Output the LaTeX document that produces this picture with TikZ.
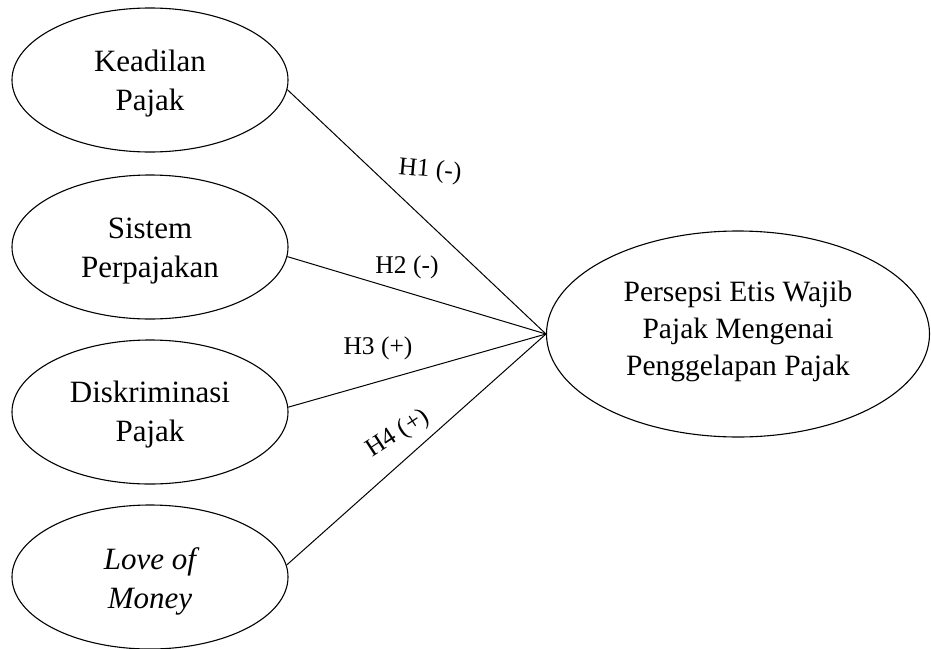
\documentclass[tikz,border=0pt]{standalone}
\usepackage{fontspec}
\setmainfont{Liberation Serif}
\usetikzlibrary{shapes.geometric}
\begin{document}
\begin{tikzpicture}[x=1pt,y=-1pt,
  var/.style={draw, ellipse, line width=1.1pt, inner sep=0pt, minimum width=276pt, minimum height=144pt},
  vtext/.style={inner sep=0pt, align=center, font=\fontsize{31}{39}\selectfont},
  dep/.style={draw, ellipse, line width=1.1pt, inner sep=0pt, minimum width=383pt, minimum height=206pt},
  dtext/.style={inner sep=0pt, align=center, font=\fontsize{29.5}{37}\selectfont},
  link/.style={line width=1pt},
  hyp/.style={font=\fontsize{25.5}{30}\selectfont, inner sep=0pt}]
\useasboundingbox (0,0) rectangle (931,648);
\node[var] (k) at (150,80) {};
\node[vtext] (kt) at (150,84) {Keadilan\\Pajak};
\node[var] (s) at (150,247) {};
\node[vtext] (st) at (150,251) {Sistem\\Perpajakan};
\node[var] (d) at (150,412) {};
\node[vtext] (dt) at (150,415) {Diskriminasi\\Pajak};
\node[var] (l) at (150,577) {};
\node[vtext] (lt) at (150,581) {\itshape Love of\\\itshape Money};
\node[dep] (p) at (738,334) {};
\node[dtext] (pt) at (738,331) {Persepsi Etis Wajib\\Pajak Mengenai\\Penggelapan Pajak};
\draw[link] (k.-4) -- (p.west);
\draw[link] (s.-4) -- (p.west);
\draw[link] (d.2) -- (p.west);
\draw[link] (l.5) -- (p.west);
\node[hyp, rotate=-5] (h1) at (430,171) {H1 (-)};
\node[hyp] (h2) at (407,267) {H2 (-)};
\node[hyp] (h3) at (378,348) {H3 (+)};
\node[hyp, rotate=33] (h4) at (398,434) {H4 (+)};
\end{tikzpicture}
\end{document}
